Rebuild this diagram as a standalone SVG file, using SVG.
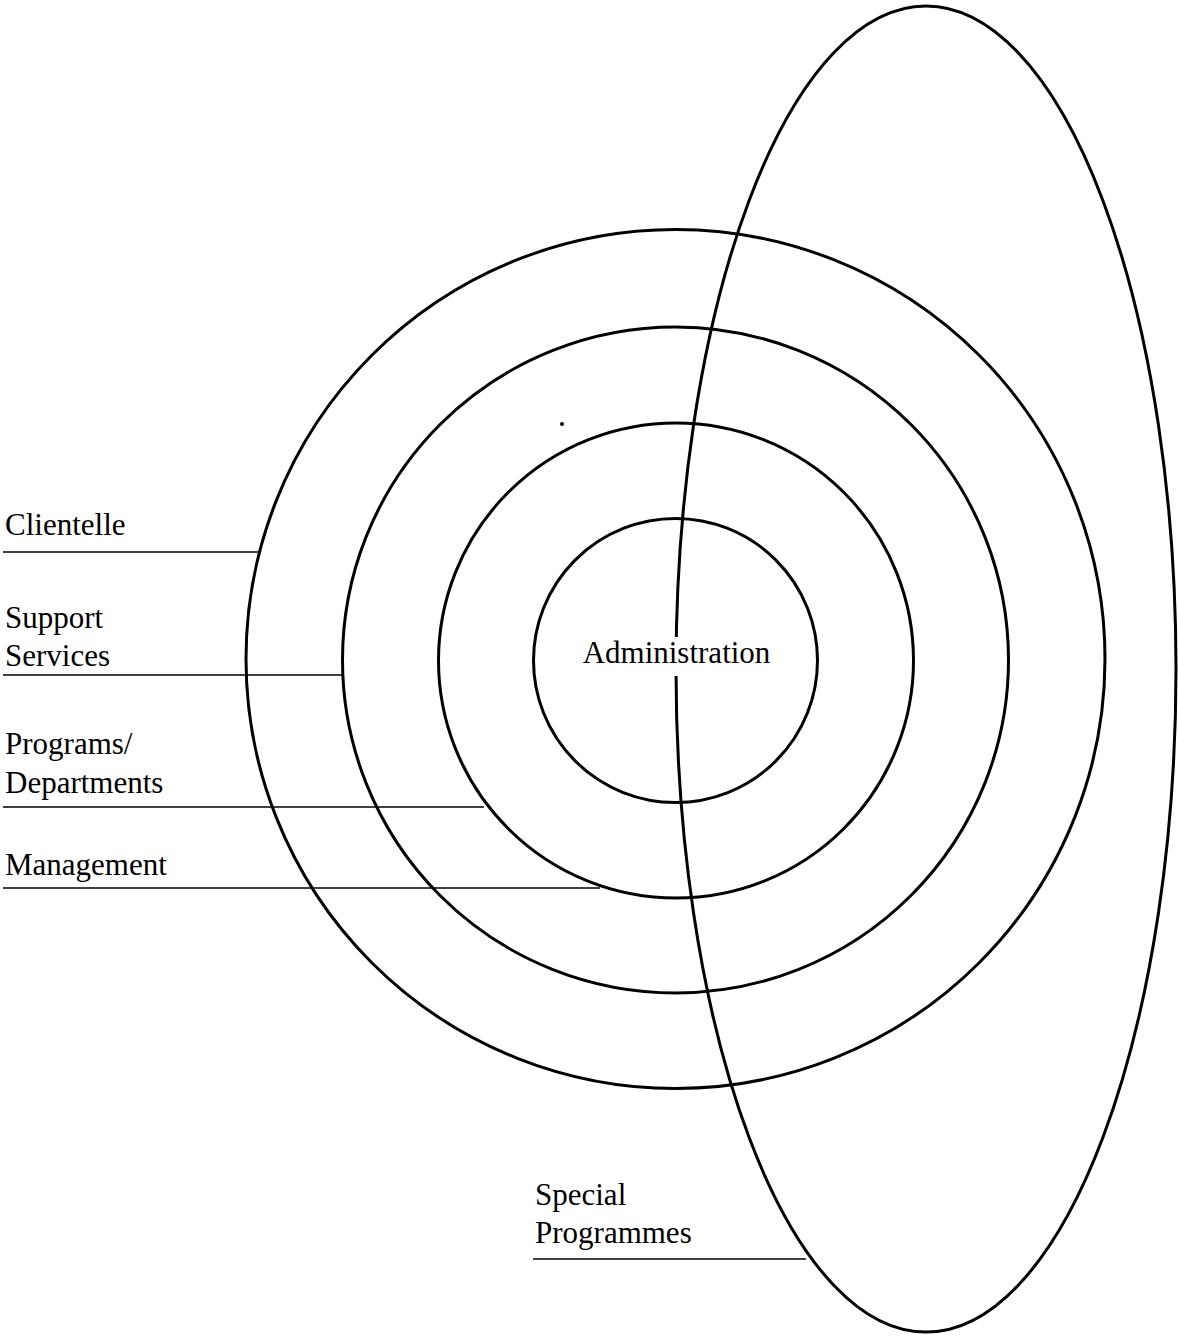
<svg xmlns="http://www.w3.org/2000/svg" width="1178" height="1336" viewBox="0 0 1178 1336">
  <style>
    .ring { fill: none; stroke: #000; stroke-width: 3; }
    .leader { fill: none; stroke: #000; stroke-width: 1.6; }
    .label { font-family: "Liberation Serif", "Times New Roman", serif; font-size: 31px; fill: #000; }
  </style>
  <rect x="0" y="0" width="1178" height="1336" fill="#fff"/>

  <!-- concentric organisational rings -->
  <g id="clientelle">
    <circle class="ring" cx="675.5" cy="659" r="429.5"/>
  </g>
  <g id="support-services">
    <circle class="ring" cx="675.5" cy="660" r="333"/>
  </g>
  <g id="programs-departments">
    <circle class="ring" cx="676" cy="660.5" r="237.5"/>
  </g>
  <g id="administration">
    <circle class="ring" cx="675.5" cy="660.5" r="142"/>
  </g>

  <!-- tall ellipse cutting across all rings -->
  <g id="special-programmes">
    <ellipse class="ring" cx="926" cy="669" rx="250" ry="663"/>
  </g>

  <!-- centre label, knocked out of the ellipse line -->
  <g id="administration-label">
    <rect x="578" y="637" width="198" height="39" fill="#fff"/>
    <text class="label" x="676.5" y="663" text-anchor="middle">Administration</text>
  </g>

  <!-- leader lines from side labels to their rings -->
  <g id="connectors">
    <line class="leader" x1="3" y1="552" x2="260" y2="552"/>
    <line class="leader" x1="3" y1="675" x2="342" y2="675"/>
    <line class="leader" x1="3" y1="807" x2="484" y2="807"/>
    <line class="leader" x1="3" y1="888" x2="600" y2="888"/>
    <line class="leader" x1="533" y1="1259" x2="806" y2="1259"/>
  </g>

  <!-- side labels -->
  <g id="labels">
    <text class="label" x="5" y="535">Clientelle</text>
    <text class="label" x="5" y="628">Support</text>
    <text class="label" x="5" y="666">Services</text>
    <text class="label" x="5" y="754">Programs/</text>
    <text class="label" x="5" y="793">Departments</text>
    <text class="label" x="5" y="875">Management</text>
    <text class="label" x="535" y="1205">Special</text>
    <text class="label" x="535" y="1243">Programmes</text>
  </g>

  <circle cx="562" cy="424" r="2" fill="#000"/>
</svg>
